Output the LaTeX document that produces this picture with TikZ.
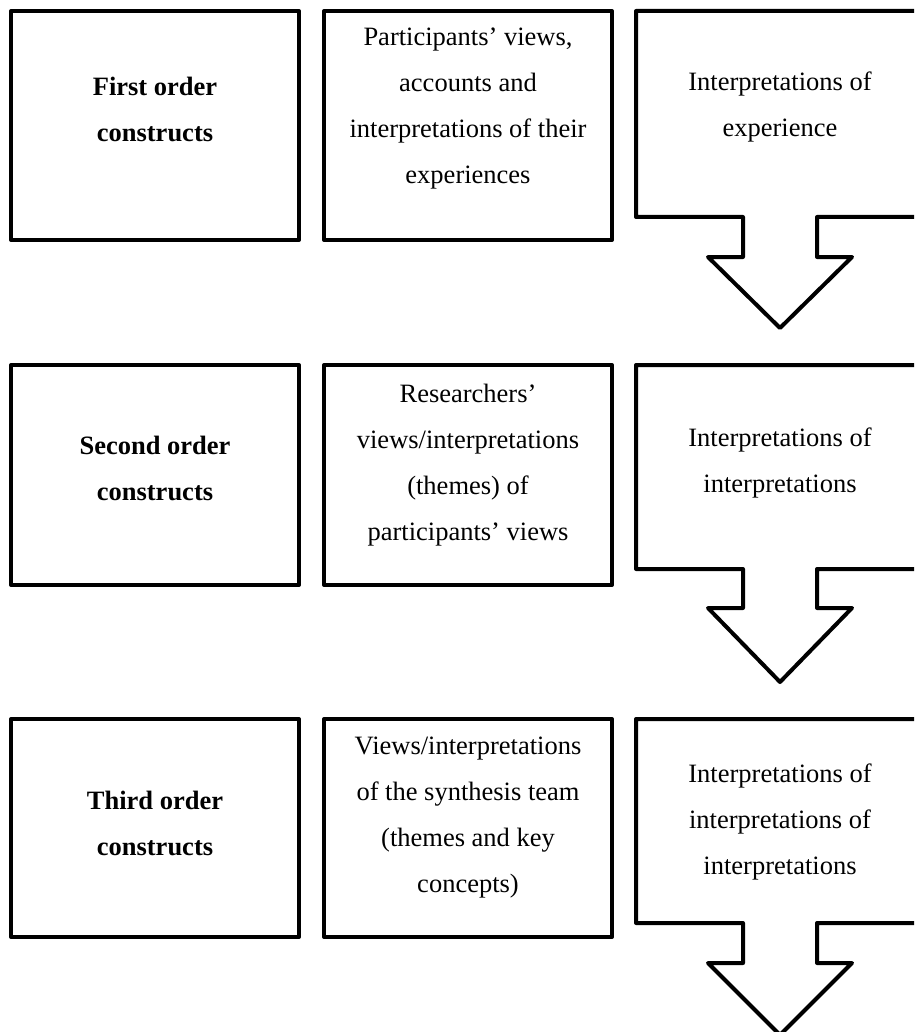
\documentclass[tikz,border=0pt]{standalone}
\usepackage{fontspec}
\setmainfont{Liberation Serif}
\begin{document}
\begin{tikzpicture}[x=1pt,y=-1pt,
  frame/.style={draw=black, line width=4pt, line join=round},
  boxnode/.style={frame, rectangle, inner sep=0pt},
  txt/.style={align=center, inner sep=0pt, anchor=base, font=\fontsize{26.5}{46}\selectfont},
  heading/.style={txt, font=\fontsize{26.5}{46}\selectfont\bfseries}]
\useasboundingbox (0,0) rectangle (914,1032);
\clip (0,0) rectangle (914,1032);

% left column: construct boxes
\node[boxnode, minimum width=288pt, minimum height=229pt] (c1) at (155,125.5) {};
\node[boxnode, minimum width=288pt, minimum height=220pt] (c2) at (155,475) {};
\node[boxnode, minimum width=288pt, minimum height=218pt] (c3) at (155,828) {};
% middle column: description boxes
\node[boxnode, minimum width=288pt, minimum height=229pt] (d1) at (468,125.5) {};
\node[boxnode, minimum width=288pt, minimum height=220pt] (d2) at (468,475) {};
\node[boxnode, minimum width=288pt, minimum height=218pt] (d3) at (468,828) {};

% right column: down-arrow callouts
\foreach \t/\b/\s/\p in {11/217/257/328, 365/569/608/682, 719/923/963/1035}{
  \draw[frame] (930,\t) -- (636,\t) -- (636,\b) -- (743,\b) -- (743,\s) -- (708,\s)
    -- (780,\p) -- (852,\s) -- (817,\s) -- (817,\b) -- (930,\b);
}

% texts (positioned by the baseline of their last line)
\node[heading] (h1) at (155,142) {First order\\constructs};
\node[heading] (h2) at (155,500) {Second order\\constructs};
\node[heading] (h3) at (155,855) {Third order\\constructs};

\node[txt] (m1) at (468,184) {Participants’ views,\\accounts and\\interpretations of their\\experiences};
\node[txt] (m2) at (468,540) {Researchers’\\views/interpretations\\(themes) of\\participants’ views};
\node[txt] (m3) at (468,892) {Views/interpretations\\of the synthesis team\\(themes and key\\concepts)};

\node[txt] (r1) at (780,137) {Interpretations of\\experience};
\node[txt] (r2) at (780,492) {Interpretations of\\interpretations};
\node[txt] (r3) at (780,874) {Interpretations of\\interpretations of\\interpretations};
\end{tikzpicture}
\end{document}
